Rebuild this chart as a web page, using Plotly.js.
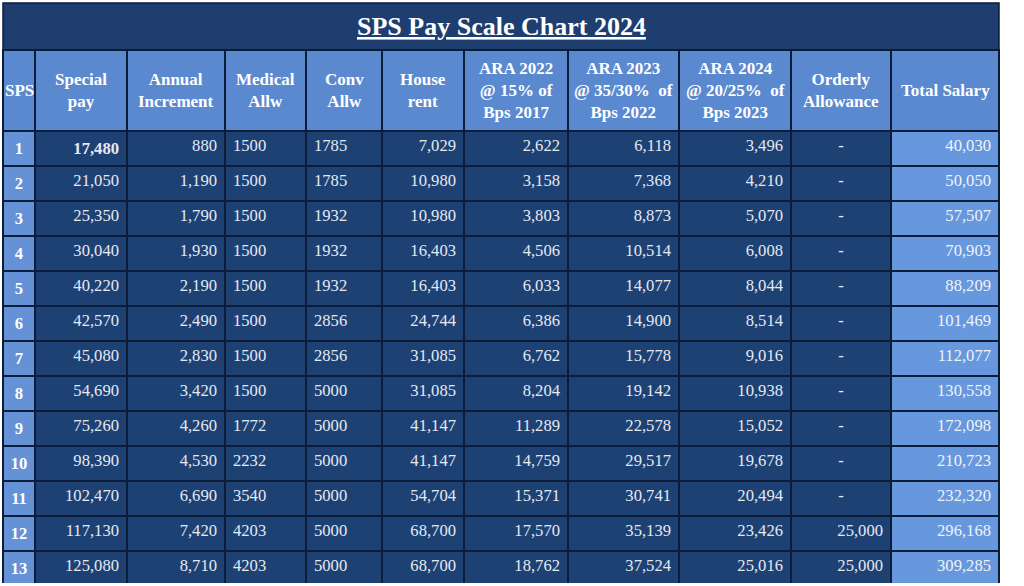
<!DOCTYPE html>
<html><head><meta charset="utf-8">
<script src="https://cdn.plot.ly/plotly-3.0.1.min.js"></script>
<style>html,body{margin:0;padding:0;background:#fff;overflow:hidden;} #chart{width:1024px;height:586px;}</style>
</head><body><div id="chart"></div>
<script>
// ---- data ----
const chartTitle = 'SPS Pay Scale Chart 2024';
const columnHeaders = ['SPS', 'Special<br>pay', 'Annual<br>Increment', 'Medical<br>Allw', 'Conv<br>Allw', 'House<br>rent',
  'ARA 2022<br>@ 15% of<br>Bps 2017', 'ARA 2023<br>@ 35/30%  of<br>Bps 2022', 'ARA 2024<br>@ 20/25%  of<br>Bps 2023',
  'Orderly<br>Allowance', 'Total Salary'];
const sps = [1, 2, 3, 4, 5, 6, 7, 8, 9, 10, 11, 12, 13];
const specialPay = [17480, 21050, 25350, 30040, 40220, 42570, 45080, 54690, 75260, 98390, 102470, 117130, 125080];
const annualIncrement = [880, 1190, 1790, 1930, 2190, 2490, 2830, 3420, 4260, 4530, 6690, 7420, 8710];
const medicalAllw = [1500, 1500, 1500, 1500, 1500, 1500, 1500, 1500, 1772, 2232, 3540, 4203, 4203];
const convAllw = [1785, 1785, 1932, 1932, 1932, 2856, 2856, 5000, 5000, 5000, 5000, 5000, 5000];
const houseRent = [7029, 10980, 10980, 16403, 16403, 24744, 31085, 31085, 41147, 41147, 54704, 68700, 68700];
const ara2022 = [2622, 3158, 3803, 4506, 6033, 6386, 6762, 8204, 11289, 14759, 15371, 17570, 18762];
const ara2023 = [6118, 7368, 8873, 10514, 14077, 14900, 15778, 19142, 22578, 29517, 30741, 35139, 37524];
const ara2024 = [3496, 4210, 5070, 6008, 8044, 8514, 9016, 10938, 15052, 19678, 20494, 23426, 25016];
const orderlyAllowance = [null, null, null, null, null, null, null, null, null, null, null, 25000, 25000];
const totalSalary = [40030, 50050, 57507, 70903, 88209, 101469, 112077, 130558, 172098, 210723, 232320, 296168, 309285];

// ---- presentation ----
const W = 1024, H = 586;
const margin = {l: 3, r: 25, t: 50, b: 3};
const plotH = H - margin.t - margin.b;
const titleBand = 47;
const headerH = 81;
const rowH = 34.4;
const colWidths = [32, 92, 98, 81, 76, 82, 104, 111, 112, 100, 108];

const navy = '#1e4174';
const headBlue = '#5b89d0';
const sideBlue = '#6591d7';
const totalBlue = '#6797dc';
const border = '#0d1d39';
const textCol = '#e4e9f2';

const comma = v => v.toLocaleString('en-US');
const plain = v => String(v);
const dash = v => (v === null ? '-' : comma(v));

const colValues = [
  sps.map(v => '<b>' + v + '</b>'),
  specialPay.map((v, i) => i === 0 ? '<b>' + comma(v) + '</b>' : comma(v)),
  annualIncrement.map(comma),
  medicalAllw.map(plain),
  convAllw.map(plain),
  houseRent.map(comma),
  ara2022.map(comma),
  ara2023.map(comma),
  ara2024.map(comma),
  orderlyAllowance.map(dash),
  totalSalary.map(comma)
];
const colAlign = [
  'center', 'right', 'right', 'left', 'left', 'right', 'right', 'right', 'right',
  orderlyAllowance.map(v => v === null ? 'center' : 'right'),
  'right'
];
const colFill = colWidths.map((w, i) => i === 0 ? sideBlue : (i === colWidths.length - 1 ? totalBlue : navy));
const colFont = colWidths.map((w, i) => i === 0 ? '#ffffff' : (i === colWidths.length - 1 ? '#eef3fb' : textCol));

const trace = {
  type: 'table',
  domain: {x: [0, 1], y: [0, 1]},
  columnwidth: colWidths,
  header: {
    values: columnHeaders.map(() => ''),
    height: headerH,
    fill: {color: headBlue},
    line: {color: border, width: 1.5},
    font: {family: 'Liberation Serif', size: 17, color: '#ffffff'}
  },
  cells: {
    values: colValues,
    height: rowH,
    align: colAlign,
    fill: {color: colFill},
    line: {color: border, width: 1.5},
    font: {family: 'Liberation Serif', size: 16.6, color: colFont}
  }
};

// header labels centred in header cells
const totalW = colWidths.reduce((a, b) => a + b, 0);
let acc = 0;
const annotations = columnHeaders.map((txt, i) => {
  const cx = (acc + colWidths[i] / 2) / totalW;
  acc += colWidths[i];
  return {
    xref: 'paper', yref: 'paper', x: cx, y: 1 - (headerH / 2) / plotH,
    xanchor: 'center', yanchor: 'middle', showarrow: false,
    text: '<b>' + txt + '</b>',
    font: {family: 'Liberation Serif', size: 17, color: '#ffffff'}
  };
});
annotations.push({
  xref: 'paper', yref: 'paper', x: 0.5, y: 1 + (titleBand / 2) / plotH,
  xanchor: 'center', yanchor: 'middle', showarrow: false,
  text: '<b><span style="text-decoration:underline">' + chartTitle + '</span></b>',
  font: {family: 'Liberation Serif', size: 26, color: '#ffffff'}
});

const layout = {
  width: W, height: H,
  margin: margin,
  paper_bgcolor: '#ffffff',
  showlegend: false,
  shapes: [{
    type: 'rect', xref: 'paper', yref: 'paper',
    x0: 0, x1: 1, y0: 1, y1: 1 + titleBand / plotH,
    fillcolor: '#1e3e6f', line: {color: border, width: 1.5}, layer: 'below'
  }],
  annotations: annotations
};

Plotly.newPlot('chart', [trace], layout, {displayModeBar: false, staticPlot: true});
</script>
</body></html>
